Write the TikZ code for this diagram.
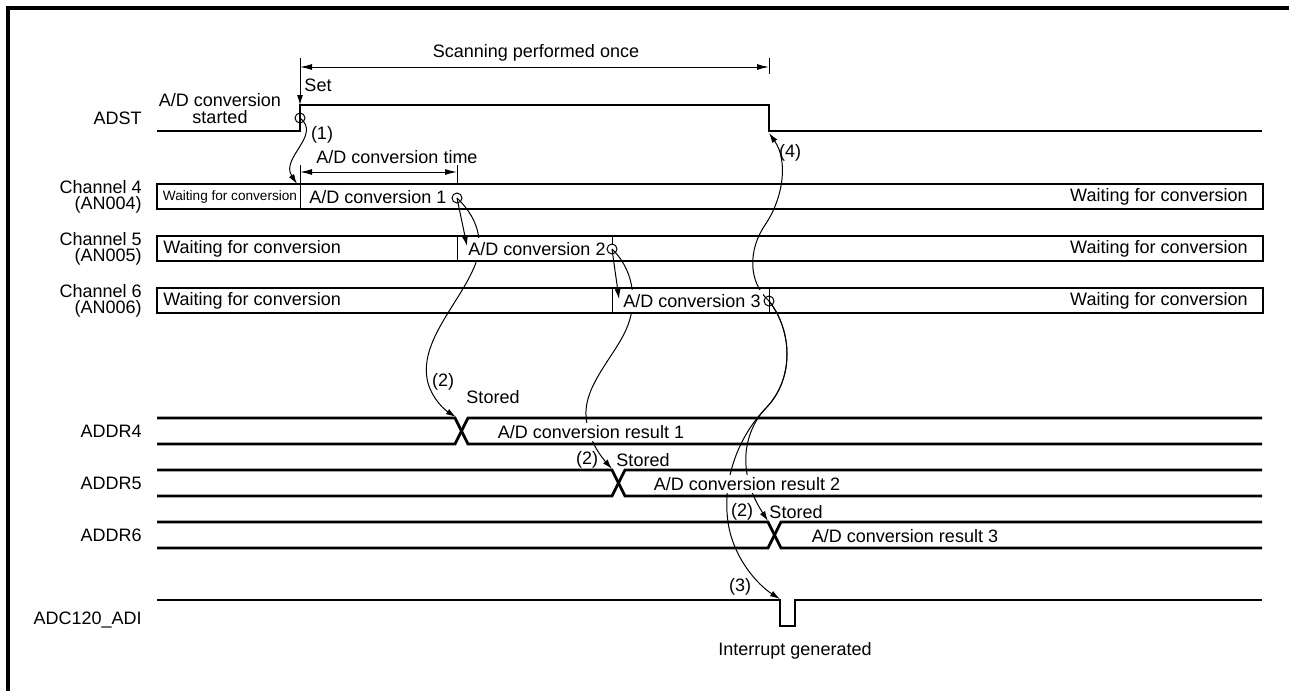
\documentclass[tikz,border=0pt]{standalone}
\usepackage{fontspec}
\setmainfont{Liberation Sans}
\usetikzlibrary{arrows.meta}

\tikzset{
  sig/.style={line width=1.4pt},
  wire/.style={line width=0.5pt},
  arr/.style={-{Latex[length=5pt,width=3pt]}},
  dimarr/.style={wire,{Latex[length=6pt,width=3pt]}-{Latex[length=6pt,width=3pt]}},
  txt/.style={inner sep=0.5pt,font=\fontsize{9}{8.5}\selectfont},
  chlbl/.style={txt,anchor=east,align=right,font=\fontsize{9}{8.2}\selectfont},
  tinytxt/.style={inner sep=0.5pt,font=\fontsize{6.8}{8}\selectfont},
  cvt/.style={txt,fill=white,inner sep=1pt,minimum height=11pt},
  res/.style={txt,fill=white,inner sep=1pt}
}

\begin{document}
\begin{tikzpicture}[x=0.5pt,y=0.5pt,yscale=-1,xscale=1]
\path[use as bounding box] (0,0) rectangle (1289,691);

%Frame
\draw[line width=2pt] (8,691) -- (8,8) -- (1289,8);

%Points on the waveforms
\coordinate (set) at (300,105);
\coordinate (clr) at (769,133);
\coordinate (c0) at (300,118);
\coordinate (c1) at (457,198);
\coordinate (c2) at (612,249);
\coordinate (c3) at (769,301);
\coordinate (w4) at (297,184);
\coordinate (st5) at (467,246);
\coordinate (st6) at (619,299);
\coordinate (x4) at (456,417);
\coordinate (x5) at (612,469);
\coordinate (x6) at (768,521);
\coordinate (irq) at (780,599);

%ADST
\draw[sig] (157,131) -- (300,131) -- (set) -- (769,105) -- (769,131) -- (1262,131);
%Channel 4..6
\foreach \y in {184,236,288}
  \draw[sig] (157,\y) rectangle (1263,\y+25);
%ADDR4..6
\foreach \x/\y in {455/418,612/470,768/522} {
  \draw[sig] (157,\y) -- (\x,\y) -- (\x+13,\y+26) -- (1262,\y+26);
  \draw[sig] (157,\y+26) -- (\x,\y+26) -- (\x+13,\y) -- (1262,\y);
}
%ADC120_ADI
\draw[sig] (157,600) -- (780,600) -- (780,626) -- (795,626) -- (795,600) -- (1262,600);

%Dimension lines and dividers
\draw[wire,arr] (300,58) -- (set);
\draw[wire] (769,58) -- (769,74);
\draw[dimarr] (300,67) -- (769,67);
\draw[wire] (300,165) -- (300,209);
\draw[wire] (457,165) -- (457,184);
\draw[dimarr] (300,172) -- (457,172);
\draw[wire] (457,236) -- (457,261);
\draw[wire] (612,236) -- (612,244);
\draw[wire] (612,288) -- (612,313);
\draw[wire] (769,288) -- (769,313);

%Curved arrows
\draw[wire,arr] (c0) .. controls (322,135) and (280,158) .. (w4);
\draw[wire,arr] (c1) .. controls (482,222) and (484,248) .. (472,272) .. controls (455,308) and (418,345) .. (428,383) .. controls (433,400) and (445,410) .. (x4);
\draw[wire,arr] (c2) .. controls (632,268) and (638,298) .. (628,325) .. controls (618,352) and (588,380) .. (586,410) .. controls (585,432) and (597,452) .. (x5);
\draw[wire,arr] (c3) .. controls (748,282) and (748,250) .. (765,225) .. controls (784,197) and (788,160) .. (clr);
\draw[wire,arr] (c3) .. controls (792,330) and (795,378) .. (766,408) .. controls (745,430) and (735,470) .. (x6);
\draw[wire,arr] (c3) .. controls (792,330) and (795,378) .. (766,408) .. controls (738,437) and (722,480) .. (728,522) .. controls (733,558) and (758,585) .. (irq);

% Text Node
\node[txt,anchor=east] (adst) at (143,118) {ADST};
\node[chlbl] (ch4) at (143,197) {Channel 4\\(AN004)};
\node[chlbl] (ch5) at (143,249) {Channel 5\\(AN005)};
\node[chlbl] (ch6) at (143,301) {Channel 6\\(AN006)};
\node[txt,anchor=east] (addr4) at (143,431) {ADDR4};
\node[txt,anchor=east] (addr5) at (143,483) {ADDR5};
\node[txt,anchor=east] (addr6) at (143,535) {ADDR6};
\node[txt,anchor=east] (adi) at (143,620) {ADC120\_ADI};

% Text Node
\node[txt,align=center] (started) at (220,109) {A/D conversion\\started};
\node[txt] (setl) at (318,85) {Set};
\node[txt] (scan) at (536,53) {Scanning performed once};
\node[txt] (cvtime) at (397,157) {A/D conversion time};
\node[txt] (n1) at (322,135) {(1)};
\node[txt] (n4) at (790,153) {(4)};

% Text Node
\node[tinytxt] (wait4) at (230,197) {Waiting for conversion};
\node[cvt] (cv1) at (378,197) {A/D conversion 1};
\node[txt,anchor=east] (wait4r) at (1249,197) {Waiting for conversion};
\node[txt,anchor=west] (wait5) at (162,249) {Waiting for conversion};
\node[cvt] (cv2) at (537,249) {A/D conversion 2};
\node[txt,anchor=east] (wait5r) at (1249,249) {Waiting for conversion};
\node[txt,anchor=west] (wait6) at (162,301) {Waiting for conversion};
\node[cvt] (cv3) at (692,301) {A/D conversion 3};
\node[txt,anchor=east] (wait6r) at (1249,301) {Waiting for conversion};

% Text Node
\node[res] (res1) at (591,432) {A/D conversion result 1};
\node[res] (res2) at (747,484) {A/D conversion result 2};
\node[res] (res3) at (905,536) {A/D conversion result 3};
\node[txt] (n2a) at (443,382) {(2)};
\node[txt] (sto4) at (493,397) {Stored};
\node[txt] (n2b) at (587,460) {(2)};
\node[txt] (sto5) at (643,460) {Stored};
\node[txt] (n2c) at (742,512) {(2)};
\node[txt] (sto6) at (796,512) {Stored};
\node[txt] (n3) at (740,587) {(3)};
\node[txt] (intr) at (795,651) {Interrupt generated};

%Short arrows to the next channel
\draw[wire,arr] (c1) -- (st5);
\draw[wire,arr] (c2) -- (st6);
\foreach \c in {c0,c1,c2,c3}
  \draw[wire] (\c) circle[radius=2.5pt];
\end{tikzpicture}
\end{document}
